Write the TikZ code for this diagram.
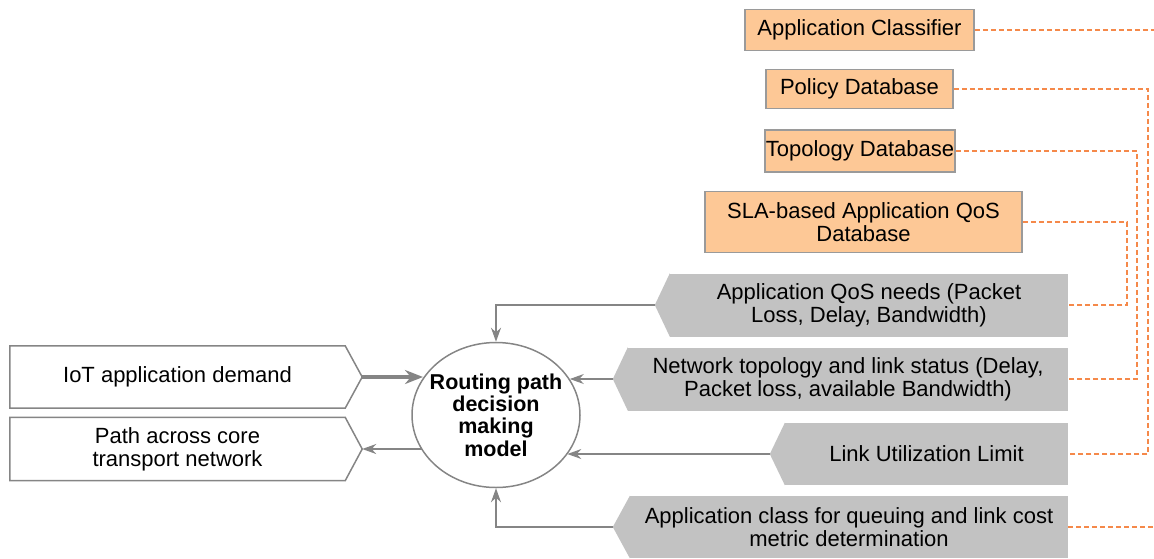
\documentclass[tikz,border=0pt]{standalone}
\usepackage{fontspec}
\setmainfont{Liberation Sans}
\usepackage{tikz}
\usetikzlibrary{arrows.meta,calc,shapes.geometric}
\definecolor{boxorange}{HTML}{FDC896}
\definecolor{boxedge}{HTML}{9A9A9A}
\definecolor{boxgray}{HTML}{C2C2C2}
\definecolor{dashorange}{HTML}{F5894A}
\definecolor{linegray}{HTML}{858585}

\tikzset{
  dbbox/.style={draw=boxedge,line width=1.5pt,fill=boxorange,inner sep=0pt,align=center},
  inbox/.style={fill=boxgray,inner sep=0pt,align=center},
  endbox/.style={inner sep=0pt,align=center},
  outline/.style={draw=linegray,line width=1.5pt},
  conn/.style={draw=linegray,line width=1.5pt,-{Stealth[length=14pt,width=10pt]}},
  feed/.style={draw=dashorange,line width=2pt,dash pattern=on 5pt off 3pt},
}

\begin{document}
\begin{tikzpicture}[x=1pt,y=-1pt,font=\fontsize{22}{23}\selectfont]
  \useasboundingbox (0,0) rectangle (1154,558);

  \node[dbbox,minimum width=229pt,minimum height=41pt] (cls) at (859.5,30) {Application Classifier};
  \node[dbbox,minimum width=187pt,minimum height=39pt] (pol) at (859.5,89) {Policy Database};
  \node[dbbox,minimum width=190pt,minimum height=42pt] (topo) at (860,151) {Topology Database};
  \node[dbbox,minimum width=317pt,minimum height=61pt] (sla) at (863.5,222) {SLA-based Application QoS\\Database};

  \node[inbox,minimum width=398pt,minimum height=63pt] (qos) at (869,305) {Application QoS needs (Packet\\Loss, Delay, Bandwidth)};
  \node[inbox,minimum width=440pt,minimum height=63pt] (net) at (848,379) {Network topology and link status (Delay,\\Packet loss, available Bandwidth)};
  \node[inbox,minimum width=283pt,minimum height=62pt] (link) at (926.5,454) {Link Utilization Limit};
  \node[inbox,minimum width=438pt,minimum height=62pt] (app) at (849,527) {Application class for queuing and link cost\\metric determination};
  \coordinate (qosTip) at ($(qos.west)+(-15,0)$);
  \coordinate (netTip) at ($(net.west)+(-15,0)$);
  \coordinate (linkTip) at ($(link.west)+(-15,0)$);
  \coordinate (appTip) at ($(app.west)+(-17,0)$);
  \fill[boxgray] (qos.north west) -- (qosTip) -- (qos.south west) -- cycle;
  \fill[boxgray] (net.north west) -- (netTip) -- (net.south west) -- cycle;
  \fill[boxgray] (link.north west) -- (linkTip) -- (link.south west) -- cycle;
  \fill[boxgray] (app.north west) -- (appTip) -- (app.south west) -- cycle;

  \node[endbox,minimum width=335pt,minimum height=62pt] (iot) at (177.5,377) {IoT application demand};
  \node[endbox,minimum width=335pt,minimum height=63pt] (path) at (177.5,449) {Path across core\\transport network};
  \coordinate (iotTip) at ($(iot.east)+(17,0)$);
  \coordinate (pathTip) at ($(path.east)+(17,0)$);
  \draw[outline] (iot.north east) -- (iot.north west) -- (iot.south west) -- (iot.south east) -- (iotTip) -- cycle;
  \draw[outline] (path.north east) -- (path.north west) -- (path.south west) -- (path.south east) -- (pathTip) -- cycle;

  \node[ellipse,outline,minimum width=168pt,minimum height=145pt,inner xsep=-8pt,inner ysep=0pt,align=center,font=\fontsize{21.5}{22.3}\selectfont\bfseries] (model) at (496,415) {Routing path\\decision\\making\\model};

  \draw[conn] (qosTip) -| (model.north);
  \draw[conn] (netTip) -- (model.26 |- netTip);
  \draw[conn] (linkTip) -- (model.-29 |- linkTip);
  \draw[conn] (appTip) -| (model.south);
  \draw[conn,line width=4pt,-{Stealth[length=18pt,width=14pt]}] (iotTip) -- (model.153 |- iotTip);
  \draw[conn] (model.-154 |- pathTip) -- (pathTip);

  \coordinate (clsEnd) at (1154,30);
  \coordinate (appEnd) at (1154,527);
  \coordinate (polV) at (1148,0);
  \coordinate (topoV) at (1137,0);
  \coordinate (slaV) at (1127,0);
  \draw[feed] (cls.east) -- (clsEnd);
  \draw[feed] (pol.east) -- (pol.east -| polV) |- (link.east);
  \draw[feed] (topo.east) -- (topo.east -| topoV) |- (net.east);
  \draw[feed] (sla.east) -- (sla.east -| slaV) |- (qos.east);
  \draw[feed] (app.east) -- (appEnd);
\end{tikzpicture}
\end{document}
